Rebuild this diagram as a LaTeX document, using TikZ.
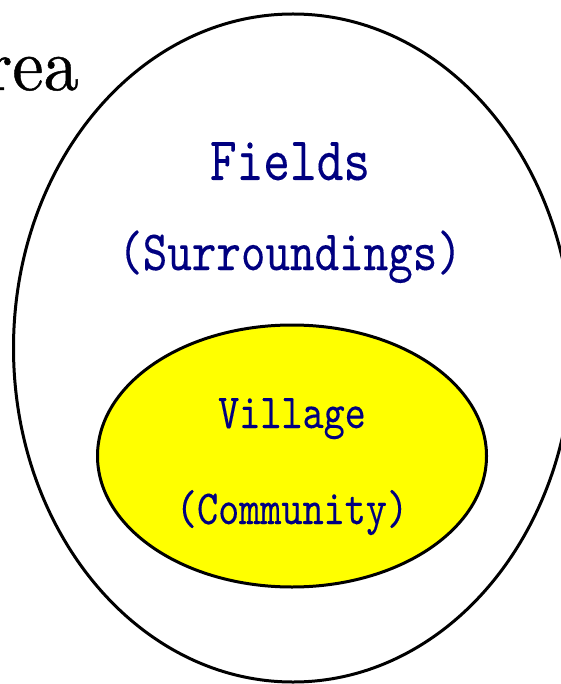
\documentclass[tikz,border=0pt]{standalone}
\usepackage{fontspec}
\usetikzlibrary{shapes.geometric}
\newfontfamily\monof[FakeStretch=0.82,FakeBold=0.15]{lmmono10-regular.otf}
\newfontfamily\romf[FakeStretch=0.95,FakeBold=0.6]{lmroman10-regular.otf}
\definecolor{navytext}{HTML}{000080}
\definecolor{villagefill}{HTML}{FFFF00}
\tikzset{
  ring/.style={ellipse, draw=black, line width=3pt, inner sep=0pt},
  lab/.style={anchor=base, inner sep=0pt, text=navytext},
}
\begin{document}
\begin{tikzpicture}[x=1pt,y=-1pt]
\useasboundingbox (0,0) rectangle (561,684);
\fill[white] (0,0) rectangle (561,684);
\node[ring, minimum width=559pt, minimum height=668pt] (area) at (293,348) {};
\node[ring, fill=villagefill, minimum width=389pt, minimum height=262pt] (village) at (292,456) {};
\node[anchor=base east, inner sep=0pt, font=\romf\fontsize{74}{74}\selectfont] (arealab) at (79,90) {rea};
\node[lab, font=\monof\fontsize{62}{62}\selectfont] (fields) at (290,180) {Fields};
\node[lab, font=\monof\fontsize{57}{57}\selectfont] (surr) at (290,270) {(Surroundings)};
\node[lab, font=\monof\fontsize{49}{49}\selectfont] (vill) at (292,428) {Village};
\node[lab, font=\monof\fontsize{49}{49}\selectfont] (comm) at (292,524) {(Community)};
\end{tikzpicture}
\end{document}
